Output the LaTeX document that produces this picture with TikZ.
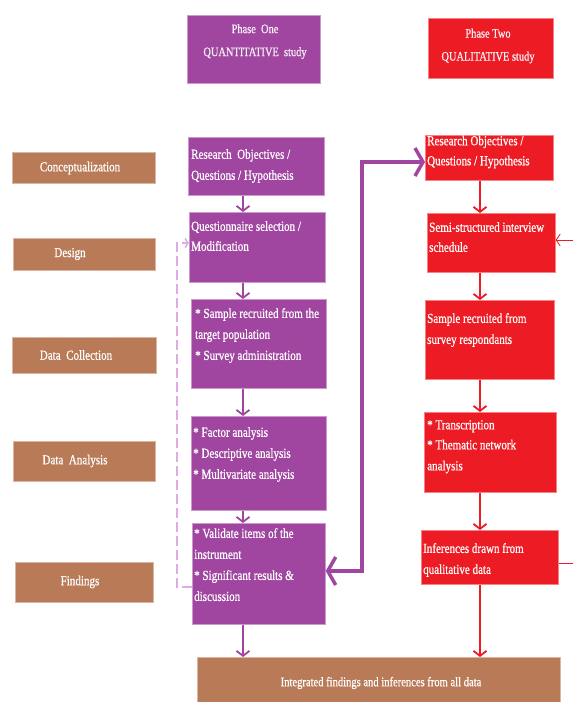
\documentclass[tikz,border=0pt]{standalone}
\usepackage{fontspec}
\setmainfont{Liberation Serif}
\newfontfamily\condfont{Liberation Serif}[FakeStretch=0.8,FakeBold=0.6]
\usetikzlibrary{arrows.meta}
\definecolor{qpurple}{RGB}{160,70,160}
\definecolor{qred}{RGB}{237,28,36}
\definecolor{qbrown}{RGB}{185,122,88}
\definecolor{qlav}{RGB}{222,172,226}
\tikzset{
  box/.style={anchor=north west, inner sep=0pt, line width=0.7pt},
  pbox/.style={box, fill=qpurple, draw=qpurple!55!white},
  rbox/.style={box, fill=qred, draw=qred!55!white},
  bbox/.style={box, fill=qbrown, draw=qbrown!55!white},
  txt/.style={text=white, inner sep=0pt, align=left, anchor=north west,
    font=\condfont\fontsize{13.8}{21}\selectfont},
  stxt/.style={text=white, inner sep=0pt, align=center,
    font=\condfont\fontsize{13.8}{21}\selectfont},
  htxt/.style={text=white!92!qpurple, inner sep=0pt, align=center,
    font=\condfont\fontsize{13}{23}\selectfont},
  parr/.style={draw=qpurple, line width=1.8pt, -{Straight Barb[length=5pt,width=13pt]}},
  rarr/.style={draw=qred, line width=1.8pt, -{Straight Barb[length=5pt,width=13pt]}},
  bigarr/.style={draw=qpurple, line width=3.5pt,
    {Straight Barb[length=8pt,width=28pt]}-{Straight Barb[length=8pt,width=28pt]}},
  dasharr/.style={draw=qlav, line width=1.5pt, dash pattern=on 10pt off 4pt,
    -{Straight Barb[length=3pt,width=9pt]}},
  thinarr/.style={draw=qred, line width=0.8pt, -{Straight Barb[length=4pt,width=12pt]}}
}
\begin{document}
\begin{tikzpicture}[x=1pt,y=-1pt]
\useasboundingbox (0,0) rectangle (573,702);
\fill[white] (0,0) rectangle (573,702);

% headers
\node[pbox, minimum width=133pt, minimum height=68pt] (h1) at (187,15) {};
\node[htxt] (h1t) at (255,41.5) {Phase\ \ One\\QUANTITATIVE\ \ study};
\node[rbox, minimum width=125pt, minimum height=60pt] (h2) at (428,18) {};
\node[htxt] (h2t) at (488,46) {Phase Two\\QUALITATIVE study};

% stage boxes
\node[bbox, minimum width=143pt, minimum height=31pt] (s1) at (12,152) {};
\node[stxt] (s1t) at (80,168) {Conceptualization};
\node[bbox, minimum width=142pt, minimum height=32pt] (s2) at (13,238) {};
\node[stxt] (s2t) at (70,254) {Design};
\node[bbox, minimum width=144pt, minimum height=36pt] (s3) at (12,337) {};
\node[stxt] (s3t) at (76,355) {Data\ \ Collection};
\node[bbox, minimum width=142pt, minimum height=40pt] (s4) at (13,441) {};
\node[stxt] (s4t) at (75,461) {Data\ \ Analysis};
\node[bbox, minimum width=138pt, minimum height=40pt] (s5) at (15,562) {};
\node[stxt] (s5t) at (80,582) {Findings};

% purple column
\node[pbox, minimum width=136pt, minimum height=58pt] (p1) at (188,137) {};
\node[txt] (p1t) at (191,149) {Research\ \ Objectives /\\Questions / Hypothesis};
\node[pbox, minimum width=136pt, minimum height=70pt] (p2) at (189,212) {};
\node[txt] (p2t) at (191,221) {Questionnaire selection /\\[-1pt]Modification};
\node[pbox, minimum width=135pt, minimum height=89pt] (p3) at (191,299) {};
\node[txt] (p3t) at (195,308) {* Sample recruited from the\\target population\\* Survey administration};
\node[pbox, minimum width=135pt, minimum height=94pt] (p4) at (191,416) {};
\node[txt] (p4t) at (193,427) {* Factor analysis\\* Descriptive analysis\\* Multivariate analysis};
\node[pbox, minimum width=133pt, minimum height=101pt] (p5) at (192,523) {};
\node[txt] (p5t) at (194,528) {* Validate items of the\\instrument\\* Significant results \&\\discussion};

% red column
\node[rbox, minimum width=128pt, minimum height=45pt] (r1) at (425,135) {};
\node[txt] (r1t) at (427,135.5) {Research Objectives /\\[-1pt]Questions / Hypothesis};
\node[rbox, minimum width=128pt, minimum height=59pt] (r2) at (427,213) {};
\node[txt] (r2t) at (429,222) {Semi-structured interview\\[-1pt]schedule};
\node[rbox, minimum width=129pt, minimum height=79pt] (r3) at (425,300) {};
\node[txt] (r3t) at (427,313) {Sample recruited from\\survey respondants};
\node[rbox, minimum width=132pt, minimum height=80pt] (r4) at (424,412) {};
\node[txt] (r4t) at (427,420) {* Transcription\\[-1pt]* Thematic network\\analysis};
\node[rbox, minimum width=137pt, minimum height=54pt] (r5) at (421,530) {};
\node[txt] (r5t) at (423,543) {Inferences drawn from\\qualitative data};

% bottom box
\node[bbox, minimum width=363pt, minimum height=50pt] (bot) at (197,657) {};
\node[stxt, font=\condfont\fontsize{13.2}{21}\selectfont] (bott) at (381,683) {Integrated findings and inferences from all data};

% helper coordinates
\coordinate (ax) at (243,0);
\coordinate (rx) at (480,0);
\coordinate (tk1) at (362,571);
\coordinate (tk2) at (362,162);
\coordinate (d1) at (177,587);
\coordinate (d2) at (177,243);
\coordinate (f1) at (585,563);
\coordinate (f2) at (585,240);

% purple arrows
\draw[parr] (p1.south -| ax) -- (p2.north -| ax);
\draw[parr] (p2.south -| ax) -- (p3.north -| ax);
\draw[parr] (p3.south -| ax) -- (p4.north -| ax);
\draw[parr] (p4.south -| ax) -- (p5.north -| ax);
\draw[parr] (p5.south -| ax) -- (bot.north -| ax);

% red arrows
\draw[rarr] (r1.south -| rx) -- (r2.north -| rx);
\draw[rarr] (r2.south -| rx) -- (r3.north -| rx);
\draw[rarr] (r3.south -| rx) -- (r4.north -| rx);
\draw[rarr] (r4.south -| rx) -- (r5.north -| rx);
\draw[rarr] (r5.south -| rx) -- (bot.north -| rx);

% big link between phases
\draw[bigarr] (p5.east |- tk1) -- (tk1) -- (tk2) -- (r1.west |- tk2);

% dashed feedback
\draw[dasharr] (p5.west |- d1) -- (d1) -- (d2) -- (p2.west |- d2);

% red feedback on the right
\draw[thinarr] (r5.east |- f1) -- (f1) -- (f2) -- (r2.east |- f2);
\end{tikzpicture}
\end{document}
